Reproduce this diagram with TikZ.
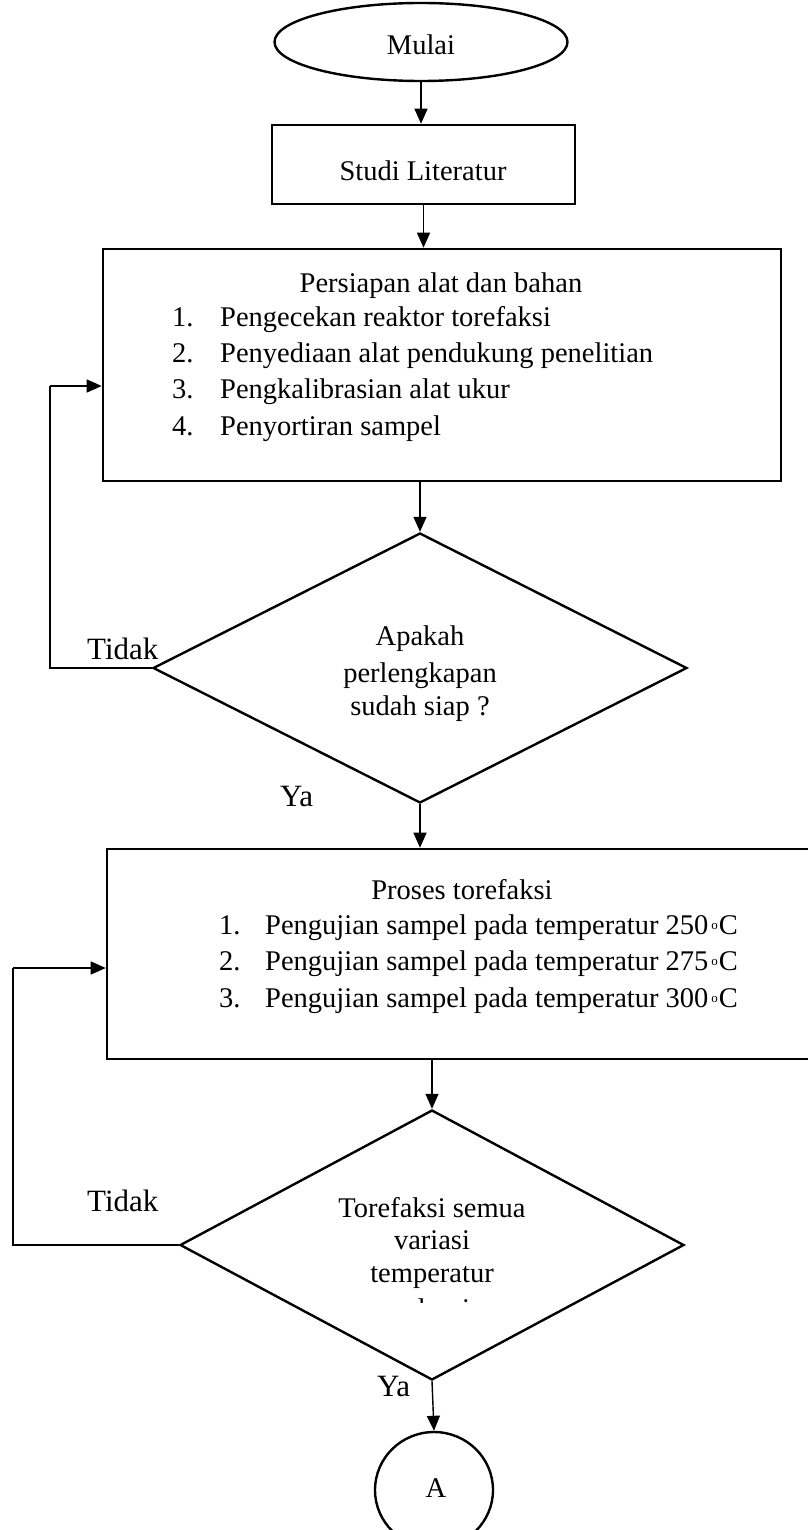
\documentclass[tikz,border=0pt]{standalone}
\usepackage{fontspec}
\setmainfont{Liberation Serif}
\usetikzlibrary{shapes.geometric,arrows.meta}
\newcommand\mydeg{\hspace{3pt}\raisebox{5pt}{\fontsize{13}{13}\selectfont o}\hspace{1pt}C}
\begin{document}
\begin{tikzpicture}[x=1pt,y=-1pt,
  shapebox/.style={draw,line width=2.6pt,rectangle,inner sep=0pt},
  roundshape/.style={draw,line width=2.4pt,ellipse,inner sep=0pt},
  decision/.style={draw,line width=2.4pt,diamond,inner sep=0pt},
  txt/.style={font=\fontsize{28.5}{34}\selectfont,inner sep=0pt,anchor=base},
  itemtxt/.style={txt,anchor=base west},
  lbl/.style={font=\fontsize{31}{36}\selectfont,inner sep=0pt,anchor=base west},
  arr/.style={line width=1.4pt,-{Triangle[length=15pt,width=13pt]}},
  ln/.style={line width=1.4pt}]
\useasboundingbox (0,0) rectangle (807,1530);
\fill[white] (0,0) rectangle (807,1530);

% shapes
\node[roundshape,minimum width=293pt,minimum height=78pt] (mulai) at (421,42) {};
\node[shapebox,minimum width=303pt,minimum height=79pt] (studi) at (423.5,164.5) {};
\node[shapebox,minimum width=678pt,minimum height=232pt] (box1) at (442,365) {};
\node[decision,minimum width=534pt,minimum height=270pt] (d1) at (420,668) {};
\node[shapebox,minimum width=708pt,minimum height=210pt] (box2) at (461,954) {};
\node[decision,minimum width=504pt,minimum height=270pt] (d2) at (432,1245) {};
\node[roundshape,minimum width=118pt,minimum height=116pt] (a) at (434,1490) {};

% texts
\node[txt] (tmulai) at (421,55) {Mulai};
\node[txt] (tstudi) at (423,181) {Studi Literatur};
\node[txt] (tb1) at (441,292) {Persiapan alat dan bahan};
\node[itemtxt] (n11) at (172,326) {1.};
\node[itemtxt] (i11) at (220,326) {Pengecekan reaktor torefaksi};
\node[itemtxt] (n12) at (172,362) {2.};
\node[itemtxt] (i12) at (220,362) {Penyediaan alat pendukung penelitian};
\node[itemtxt] (n13) at (172,398) {3.};
\node[itemtxt] (i13) at (220,398) {Pengkalibrasian alat ukur};
\node[itemtxt] (n14) at (172,435) {4.};
\node[itemtxt] (i14) at (220,435) {Penyortiran sampel};

\node[txt] (td11) at (420,645) {Apakah};
\node[txt] (td12) at (420,682) {perlengkapan};
\node[txt] (td13) at (420,715) {sudah siap ?};
\node[lbl] (tidak1) at (87,659) {Tidak};
\node[lbl] (ya1) at (280,806) {Ya};

\node[txt] (tb2) at (462,899) {Proses torefaksi};
\node[itemtxt] (n21) at (219,934) {1.};
\node[itemtxt] (i21) at (265,934) {Pengujian sampel pada temperatur 250\mydeg};
\node[itemtxt] (n22) at (219,970) {2.};
\node[itemtxt] (i22) at (265,970) {Pengujian sampel pada temperatur 275\mydeg};
\node[itemtxt] (n23) at (219,1007) {3.};
\node[itemtxt] (i23) at (265,1007) {Pengujian sampel pada temperatur 300\mydeg};

\node[txt] (td21) at (432,1217) {Torefaksi semua};
\node[txt] (td22) at (432,1249) {variasi};
\node[txt] (td23) at (432,1282) {temperatur};
\begin{scope}
\clip (300,1292) rectangle (560,1302);
\node[txt] (td24) at (432,1318) {selesai};
\end{scope}
\node[lbl] (tidak2) at (87,1211) {Tidak};
\node[lbl] (ya2) at (377,1396) {Ya};

\node[txt] (ta) at (436,1497) {A};

% connectors
\coordinate (l1) at (50,386);
\coordinate (l2) at (13,968);
\draw[arr] (mulai.south) -- (mulai.south |- studi.north);
\draw[arr] (studi.south) -- (studi.south |- box1.north);
\draw[arr] (box1.south -| d1.north) -- (d1.north);
\draw[ln] (d1.west) -| (l1);
\draw[arr] (l1) -- (box1.west |- l1);
\draw[arr] (d1.south) -- (d1.south |- box2.north);
\draw[arr] (box2.south -| d2.north) -- (d2.north);
\draw[ln] (d2.west) -| (l2);
\draw[arr] (l2) -- (box2.west |- l2);
\draw[arr] (d2.south) -- (a.north);
\end{tikzpicture}
\end{document}
